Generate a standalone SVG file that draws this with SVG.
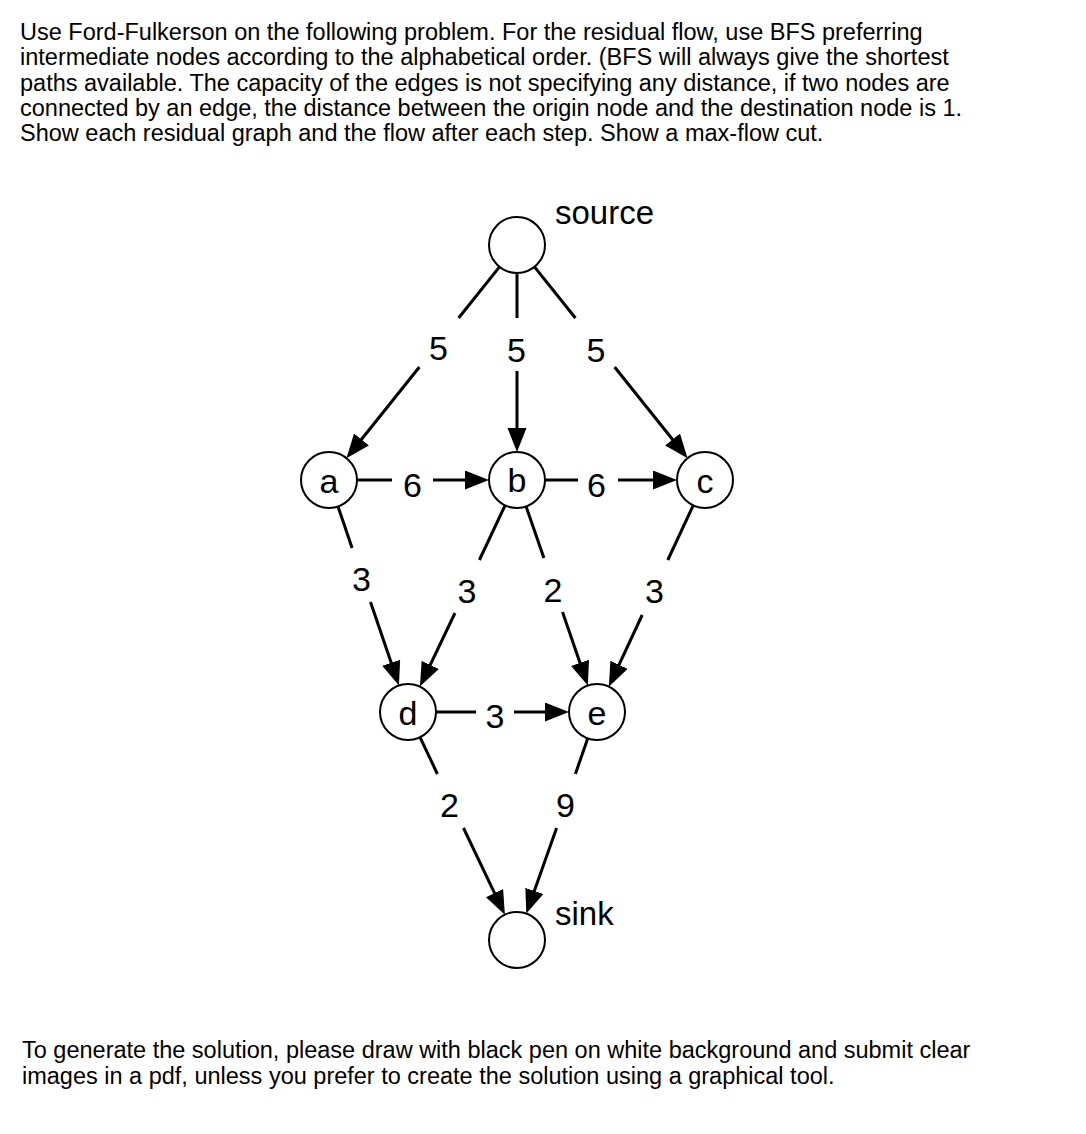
<svg xmlns="http://www.w3.org/2000/svg" width="1086" height="1134" viewBox="0 0 1086 1134">
<defs>
<style>
.txt{font-family:"Liberation Sans",Arial,Helvetica,sans-serif;font-size:23.5px;fill:#000}
.lbl{font-family:"Liberation Sans",Arial,Helvetica,sans-serif;font-size:34px;fill:#000;text-anchor:middle}
.nm{font-family:"Liberation Sans",Arial,Helvetica,sans-serif;font-size:33px;fill:#000}
.node{fill:#fff;stroke:#000;stroke-width:2}
.e{stroke:#000;stroke-width:3;fill:none}
</style>
<marker id="ah" markerUnits="userSpaceOnUse" markerWidth="26" markerHeight="20" refX="18" refY="9.5" orient="auto">
<path d="M0,0 L24,9.5 L0,19 z" fill="#000"/>
</marker>
</defs>
<rect width="1086" height="1134" fill="#fff"/>
<g id="question">
<text class="txt" x="20" y="40">Use Ford-Fulkerson on the following problem. For the residual flow, use BFS preferring</text>
<text class="txt" x="20" y="65.25">intermediate nodes according to the alphabetical order. (BFS will always give the shortest</text>
<text class="txt" x="20" y="90.5">paths available. The capacity of the edges is not specifying any distance, if two nodes are</text>
<text class="txt" x="20" y="115.75">connected by an edge, the distance between the origin node and the destination node is 1.</text>
<text class="txt" x="20" y="141">Show each residual graph and the flow after each step. Show a max-flow cut.</text>
</g>
<g id="connectors">
<!-- source -> a -->
<line class="e" x1="499.5" y1="266.9" x2="458.6" y2="318"/>
<line class="e" x1="419.4" y1="367" x2="350.2" y2="453.5" marker-end="url(#ah)"/>
<text class="lbl" x="438.5" y="360">5</text>
<!-- source -> b -->
<line class="e" x1="517" y1="273" x2="517" y2="318"/>
<line class="e" x1="517" y1="371" x2="517" y2="446" marker-end="url(#ah)"/>
<text class="lbl" x="516.5" y="362">5</text>
<!-- source -> c -->
<line class="e" x1="534.5" y1="266.9" x2="575.4" y2="318"/>
<line class="e" x1="614.6" y1="367" x2="683.8" y2="453.5" marker-end="url(#ah)"/>
<text class="lbl" x="596" y="362">5</text>
<!-- a -> b -->
<line class="e" x1="357" y1="480" x2="392" y2="480"/>
<line class="e" x1="433" y1="480" x2="483" y2="480" marker-end="url(#ah)"/>
<text class="lbl" x="412.5" y="497">6</text>
<!-- b -> c -->
<line class="e" x1="545" y1="480" x2="578" y2="480"/>
<line class="e" x1="618" y1="480" x2="671" y2="480" marker-end="url(#ah)"/>
<text class="lbl" x="596.5" y="497">6</text>
<!-- a -> d -->
<line class="e" x1="338" y1="506.5" x2="352.1" y2="548"/>
<line class="e" x1="370.5" y1="602" x2="397" y2="679.8" marker-end="url(#ah)"/>
<text class="lbl" x="361.5" y="591">3</text>
<!-- b -> d -->
<line class="e" x1="505.1" y1="505.3" x2="479.4" y2="560"/>
<line class="e" x1="455" y1="613" x2="422.5" y2="681.2" marker-end="url(#ah)"/>
<text class="lbl" x="467" y="603">3</text>
<!-- b -> e -->
<line class="e" x1="526.1" y1="506.5" x2="543.9" y2="558"/>
<line class="e" x1="562.5" y1="612" x2="585.9" y2="679.9" marker-end="url(#ah)"/>
<text class="lbl" x="553" y="602">2</text>
<!-- c -> e -->
<line class="e" x1="693.2" y1="505.4" x2="667.8" y2="560"/>
<line class="e" x1="642.2" y1="615" x2="611.4" y2="681.2" marker-end="url(#ah)"/>
<text class="lbl" x="654.5" y="603">3</text>
<!-- d -> e -->
<line class="e" x1="436" y1="712" x2="476" y2="712"/>
<line class="e" x1="514" y1="712" x2="563" y2="712" marker-end="url(#ah)"/>
<text class="lbl" x="495" y="728">3</text>
<!-- d -> sink -->
<line class="e" x1="420.1" y1="737.3" x2="437.4" y2="774"/>
<line class="e" x1="463.5" y1="828" x2="502.3" y2="909.3" marker-end="url(#ah)"/>
<text class="lbl" x="449.5" y="817">2</text>
<!-- e -> sink -->
<line class="e" x1="587.7" y1="738.4" x2="575.4" y2="774"/>
<line class="e" x1="556.6" y1="828" x2="528.3" y2="907.9" marker-end="url(#ah)"/>
<text class="lbl" x="565.5" y="817">9</text>
</g>
<g id="node-source">
<circle class="node" cx="517" cy="245" r="28"/>
<text class="nm" x="555" y="224">source</text>
</g>
<g id="node-a">
<circle class="node" cx="329" cy="480" r="28"/>
<text class="lbl" x="329" y="493">a</text>
</g>
<g id="node-b">
<circle class="node" cx="517" cy="480" r="28"/>
<text class="lbl" x="517" y="492">b</text>
</g>
<g id="node-c">
<circle class="node" cx="705" cy="480" r="28"/>
<text class="lbl" x="705" y="493">c</text>
</g>
<g id="node-d">
<circle class="node" cx="408" cy="712" r="28"/>
<text class="lbl" x="408" y="725">d</text>
</g>
<g id="node-e">
<circle class="node" cx="597" cy="712" r="28"/>
<text class="lbl" x="597" y="725">e</text>
</g>
<g id="node-sink">
<circle class="node" cx="517" cy="940" r="28"/>
<text class="nm" x="555" y="925">sink</text>
</g>
<g id="footer">
<text class="txt" x="22" y="1058">To generate the solution, please draw with black pen on white background and submit clear</text>
<text class="txt" x="22" y="1083.5">images in a pdf, unless you prefer to create the solution using a graphical tool.</text>
</g>
</svg>
